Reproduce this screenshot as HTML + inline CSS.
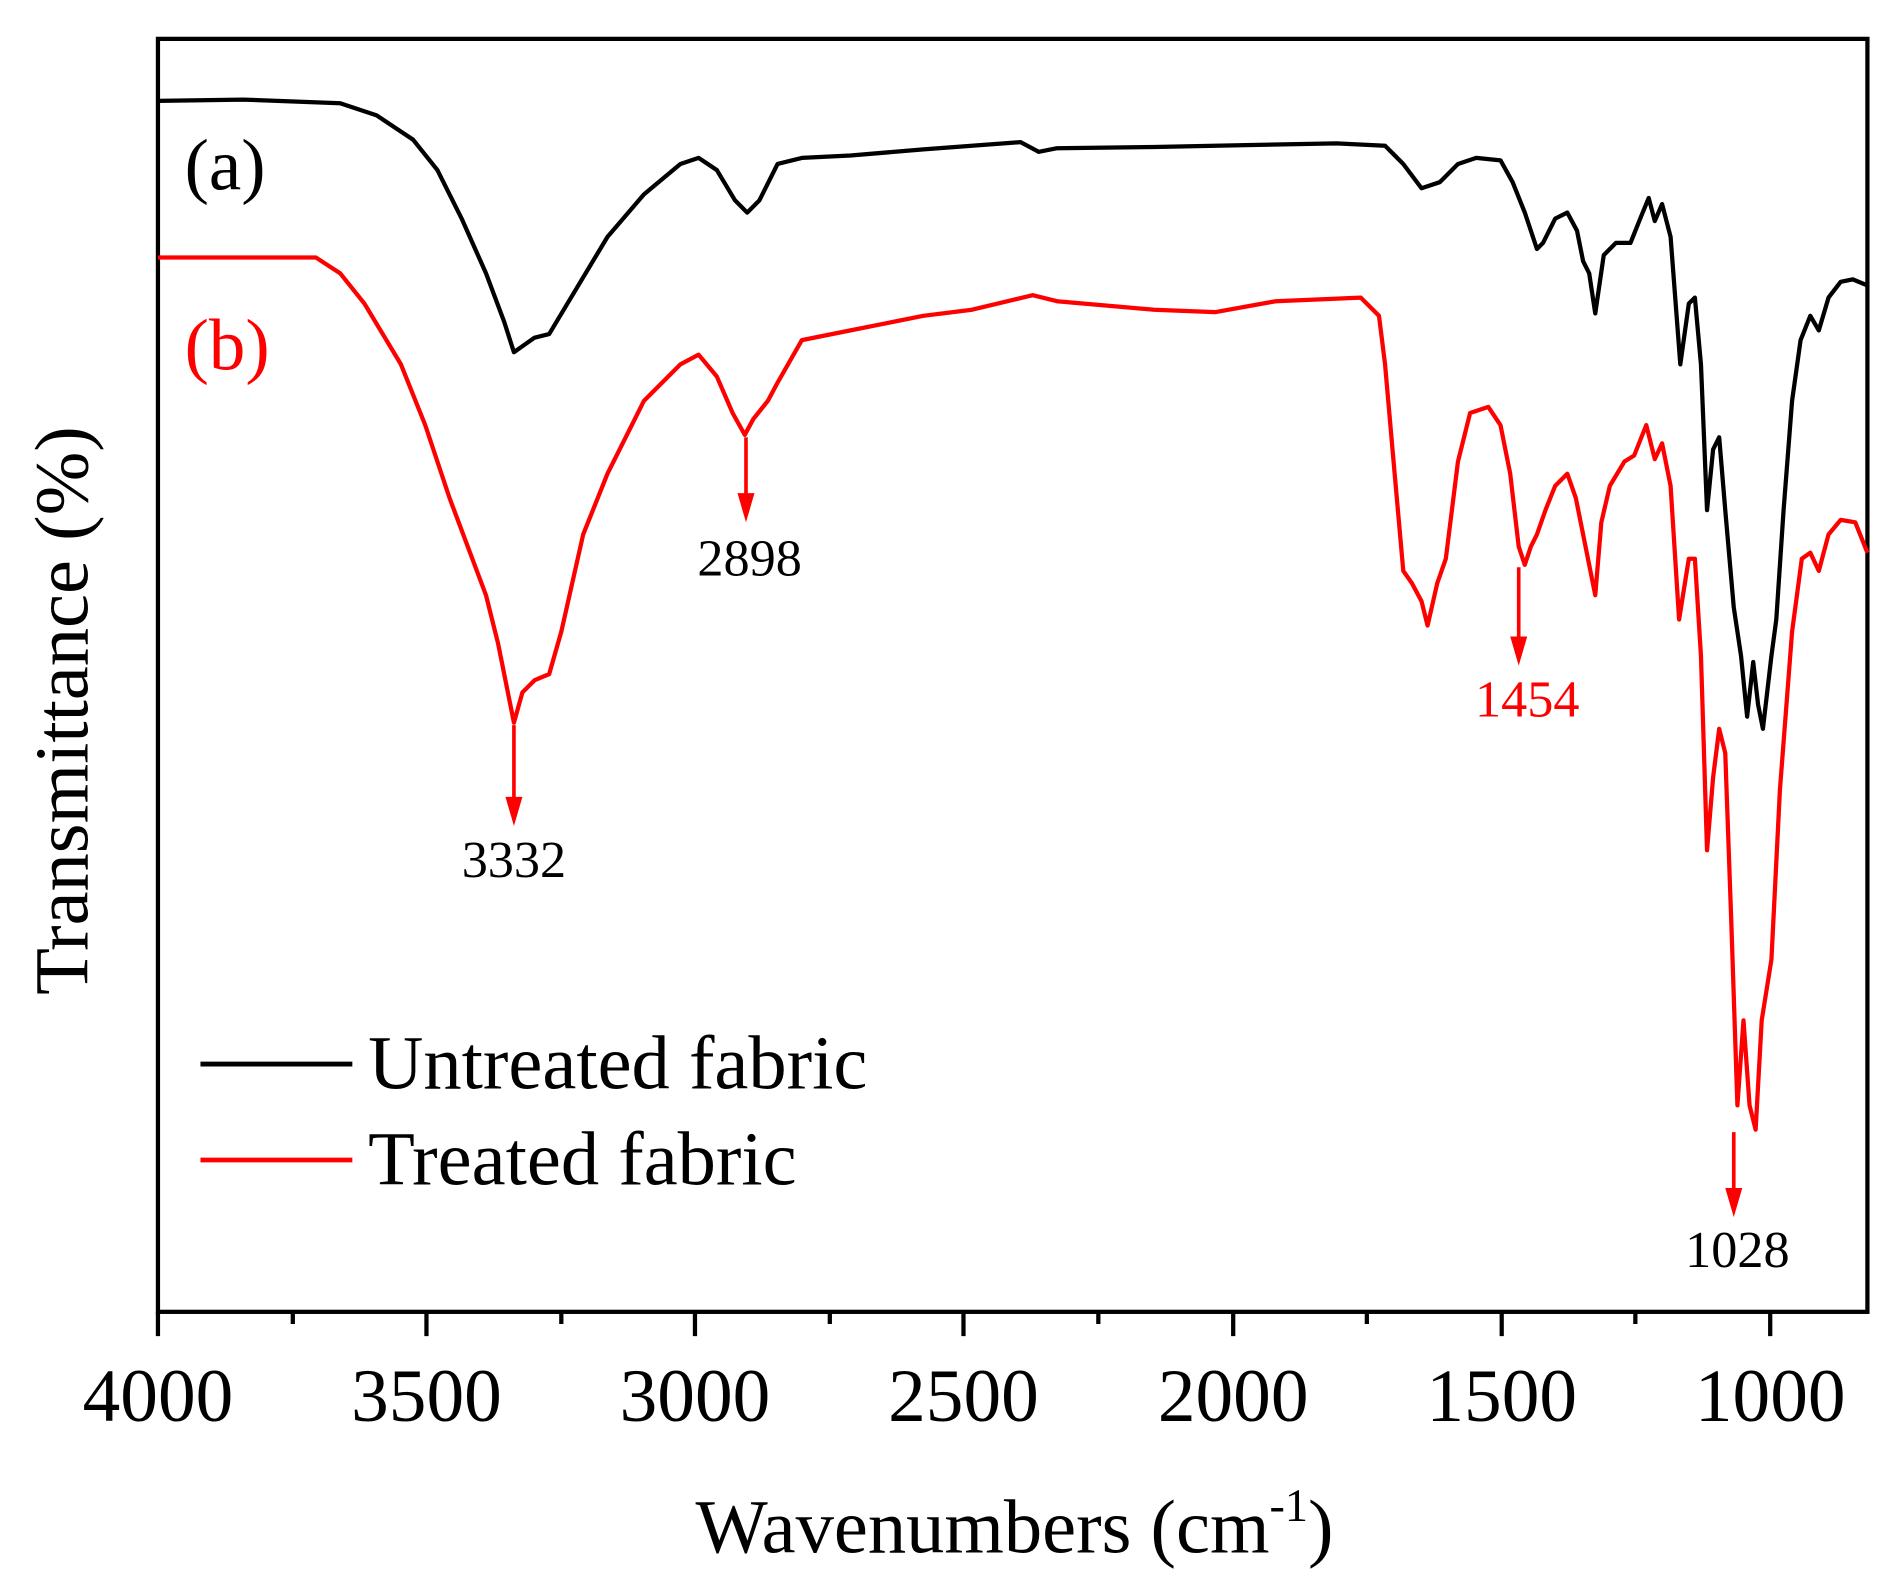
<!DOCTYPE html>
<html><head><style>html,body{margin:0;padding:0;background:#fff}svg{display:block}</style></head>
<body>
<svg width="1899" height="1590" viewBox="0 0 1563 1309" preserveAspectRatio="none" xmlns="http://www.w3.org/2000/svg" font-family="Liberation Serif, serif">
<rect x="130" y="32" width="1407" height="1048" fill="none" stroke="#000" stroke-width="3.5"/>
<g stroke="#000" stroke-width="3.5">
<line x1="130" y1="1080" x2="130" y2="1100"/><line x1="351" y1="1080" x2="351" y2="1100"/><line x1="572" y1="1080" x2="572" y2="1100"/><line x1="793" y1="1080" x2="793" y2="1100"/><line x1="1015" y1="1080" x2="1015" y2="1100"/><line x1="1236" y1="1080" x2="1236" y2="1100"/><line x1="1457" y1="1080" x2="1457" y2="1100"/>
<line x1="241" y1="1080" x2="241" y2="1090"/><line x1="462" y1="1080" x2="462" y2="1090"/><line x1="683" y1="1080" x2="683" y2="1090"/><line x1="904" y1="1080" x2="904" y2="1090"/><line x1="1125" y1="1080" x2="1125" y2="1090"/><line x1="1346" y1="1080" x2="1346" y2="1090"/>
</g>
<g font-size="62" text-anchor="middle" fill="#000">
<text x="130" y="1170">4000</text><text x="351" y="1170">3500</text><text x="572" y="1170">3000</text><text x="793" y="1170">2500</text><text x="1015" y="1170">2000</text><text x="1236" y="1170">1500</text><text x="1457" y="1170">1000</text>
</g>
<text x="835" y="1278" font-size="63" text-anchor="middle">Wavenumbers (cm<tspan font-size="38" dy="-26">-1</tspan><tspan dy="26">)</tspan></text>
<text transform="translate(72,585) rotate(-90)" font-size="63" text-anchor="middle">Transmittance (%)</text>
<polyline fill="none" stroke="#000" stroke-width="3.5" stroke-linejoin="round" points="130,83 200,82 280,85 310,95 340,115 360,140 380,180 400,225 415,265 423,290 430,285 440,278 452,275 470,245 500,195 530,160 560,135 575,130 590,140 605,165 615,175 625,165 640,135 660,130 700,128 760,123 840,117 855,125 870,122 950,121 1000,120 1100,118 1140,120 1155,135 1170,155 1185,150 1200,135 1215,130 1235,132 1245,150 1255,175 1265,205 1270,200 1280,180 1290,175 1298,190 1303,215 1308,225 1313,258 1320,210 1330,200 1342,200 1350,180 1357,163 1362,182 1368,168 1375,195 1383,300 1390,250 1395,245 1400,300 1405,420 1410,370 1415,360 1420,420 1427,500 1433,540 1438,590 1443,545 1447,580 1451,600 1458,540 1462,510 1468,420 1475,330 1482,280 1490,260 1497,272 1505,245 1515,232 1525,230 1537,235"/>
<polyline fill="none" stroke="#f00" stroke-width="3.5" stroke-linejoin="round" points="130,212 200,212 260,212 280,225 300,250 330,300 350,350 370,410 385,450 400,490 410,530 418,570 423,595 430,570 440,560 452,555 462,520 480,440 500,390 530,330 560,300 575,292 590,310 603,340 613,358 620,345 632,330 640,315 660,280 700,272 760,260 800,255 850,243 870,248 950,255 1000,257 1050,248 1120,245 1135,260 1140,300 1147,380 1155,470 1162,480 1170,495 1175,515 1183,480 1190,460 1200,380 1210,340 1225,335 1235,350 1243,390 1250,450 1255,465 1260,450 1265,440 1272,420 1280,400 1290,390 1297,410 1303,440 1307,460 1313,490 1318,430 1325,400 1337,380 1345,375 1355,350 1362,378 1368,365 1375,400 1382,510 1390,460 1395,460 1400,540 1405,700 1410,640 1415,600 1420,620 1425,760 1430,910 1435,840 1440,910 1445,930 1450,840 1458,790 1465,650 1475,520 1483,460 1490,455 1497,470 1505,440 1515,428 1527,430 1537,455"/>
<g stroke="#f00" stroke-width="3">
<line x1="423" y1="597" x2="423" y2="660"/>
<line x1="614" y1="360" x2="614" y2="410"/>
<line x1="1250" y1="467" x2="1250" y2="528"/>
<line x1="1427" y1="932" x2="1427" y2="982"/>
</g>
<g fill="#f00">
<polygon points="416,656 430,656 423,680"/>
<polygon points="607,406 621,406 614,430"/>
<polygon points="1243,524 1257,524 1250,548"/>
<polygon points="1420,978 1434,978 1427,1002"/>
</g>
<g font-size="43" text-anchor="middle">
<text x="423" y="722">3332</text>
<text x="617" y="474">2898</text>
<text x="1257" y="590" fill="#f00">1454</text>
<text x="1430" y="1043">1028</text>
</g>
<text x="152" y="156" font-size="60">(a)</text>
<text x="152" y="304" font-size="60" fill="#f00">(b)</text>
<line x1="165" y1="876" x2="290" y2="876" stroke="#000" stroke-width="4"/>
<text x="303" y="896" font-size="63">Untreated fabric</text>
<line x1="165" y1="955" x2="290" y2="955" stroke="#f00" stroke-width="4"/>
<text x="303" y="975" font-size="63">Treated fabric</text>
</svg>
</body></html>
